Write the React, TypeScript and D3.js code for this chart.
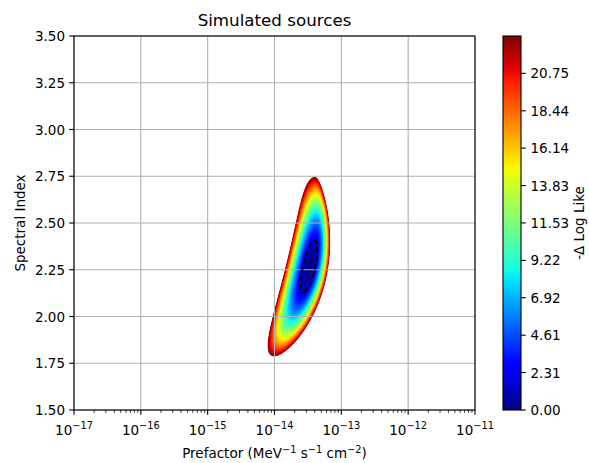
import React, { useMemo } from "react";
import * as d3 from "d3";

// ---------- data ----------
const TITLE = "Simulated sources";
const X_TICK_EXPONENTS = [-17, -16, -15, -14, -13, -12, -11];
const Y_TICKS = [1.5, 1.75, 2.0, 2.25, 2.5, 2.75, 3.0, 3.25, 3.5];
const CBAR_TICKS = [0, 2.31, 4.61, 6.92, 9.22, 11.53, 13.83, 16.14, 18.44, 20.75];
const TS_MAX = 23.05; // top of colour scale (outermost filled contour)
const DASHED_LEVELS = [2.0];
const N_LEVELS = 110;

// likelihood surface (log10 prefactor in decades, index)
const BEST_LOG_PREFACTOR = -13.467;
const BEST_INDEX = 2.267;
const INDEX_HALF_RANGE = 0.479; // half height of outer contour in index
const RIDGE_COEFS = [0.307, -0.232]; // ridge offset (decades) ~ w, w^2
const LEFT_WIDTH = [0.36, -0.025]; // left half width (decades) = a + b*w
const RIGHT_WIDTH = [0.266, -0.112]; // right half width (decades) = a + b*w

// ---------- layout ----------
const W = 589;
const H = 463;
const PL = 74;
const PR = 475;
const PT = 36;
const PB = 410;
const CB_X0 = 503;
const CB_X1 = 521;
const FONT = "DejaVu Sans, sans-serif";
const FS = 13.5;
const SUP = 9.8;
const TICK = 4.8;

function jet(t: number): string {
  const seg = (pts: number[][], x: number) => {
    for (let i = 1; i < pts.length; i++) {
      if (x <= pts[i][0]) {
        const [x0, y0] = pts[i - 1];
        const [x1, y1] = pts[i];
        return y0 + ((y1 - y0) * (x - x0)) / (x1 - x0);
      }
    }
    return pts[pts.length - 1][1];
  };
  const x = Math.max(0, Math.min(1, t));
  const r = seg([[0, 0], [0.35, 0], [0.66, 1], [0.89, 1], [1, 0.5]], x);
  const g = seg([[0, 0], [0.125, 0], [0.375, 1], [0.64, 1], [0.91, 0], [1, 0]], x);
  const b = seg([[0, 0.5], [0.11, 1], [0.34, 1], [0.65, 0], [1, 0]], x);
  return d3.rgb(r * 255, g * 255, b * 255).formatHex();
}

function negLogLike(logN: number, index: number): number {
  const w = (index - BEST_INDEX) / INDEX_HALF_RANGE;
  const ridge = BEST_LOG_PREFACTOR + RIDGE_COEFS[0] * w + RIDGE_COEFS[1] * w * w;
  const d = logN - ridge;
  const h = d < 0 ? LEFT_WIDTH[0] + LEFT_WIDTH[1] * w : RIGHT_WIDTH[0] + RIGHT_WIDTH[1] * w;
  const u = d / h;
  return TS_MAX * (u * u + w * w);
}

export default function App() {
  const x = d3.scaleLog().domain([1e-17, 1e-11]).range([PL, PR]);
  const y = d3.scaleLinear().domain([1.5, 3.5]).range([PB, PT]);
  const cb = d3.scaleLinear().domain([0, TS_MAX]).range([PB, PT]);

  const { bands, dashed } = useMemo(() => {
    const nx = PR - PL;
    const ny = PB - PT;
    const values = new Array(nx * ny);
    for (let j = 0; j < ny; j++) {
      const idx = y.invert(PT + j + 0.5);
      for (let i = 0; i < nx; i++) {
        const n = x.invert(PL + i + 0.5);
        values[j * nx + i] = -negLogLike(Math.log10(n), idx);
      }
    }
    const path = d3.geoPath();
    const levels = d3.range(1, N_LEVELS + 1).map((k) => (TS_MAX * k) / N_LEVELS);
    const gen = d3.contours().size([nx, ny]);
    const bands = levels
      .slice()
      .reverse()
      .map((lv) => {
        const c = gen.contour(values, -lv);
        const mid = lv - TS_MAX / N_LEVELS / 2;
        return { d: path(c as any) || "", color: jet(mid / TS_MAX) };
      });
    const dashed = DASHED_LEVELS.map((lv) => path(gen.contour(values, -lv) as any) || "");
    return { bands, dashed };
  }, []);

  const minorTicks: number[] = [];
  X_TICK_EXPONENTS.slice(0, -1).forEach((e) => {
    for (let m = 2; m <= 9; m++) minorTicks.push(m * Math.pow(10, e));
  });

  const gradStops = d3.range(0, 1.0001, 0.02);

  return (
    <svg width={W} height={H} style={{ display: "block", position: "absolute", left: 0, top: 0 }} fontFamily={FONT}>
      <rect x={0} y={0} width={W} height={H} fill="#fff" />
      <defs>
        <linearGradient id="jetGrad" x1="0" y1="1" x2="0" y2="0">
          {gradStops.map((t) => (
            <stop key={t} offset={t} stopColor={jet(t)} />
          ))}
        </linearGradient>
      </defs>

      {/* filled contours */}
      <g transform={`translate(${PL},${PT})`}>
        {bands.map((b, i) => (
          <path key={i} d={b.d} fill={b.color} stroke={b.color} strokeWidth={0.3} />
        ))}
      </g>

      {/* grid */}
      <g stroke="#b0b0b0" strokeWidth={1.1}>
        {X_TICK_EXPONENTS.map((e) => (
          <line key={e} x1={x(Math.pow(10, e))} x2={x(Math.pow(10, e))} y1={PT} y2={PB} />
        ))}
        {Y_TICKS.map((t) => (
          <line key={t} x1={PL} x2={PR} y1={y(t)} y2={y(t)} />
        ))}
      </g>

      {/* dashed contour */}
      <g transform={`translate(${PL},${PT})`}>
        {dashed.map((d, i) => (
          <path key={i} d={d} fill="none" stroke="#000" strokeWidth={2} strokeDasharray="6,2.6" />
        ))}
      </g>

      {/* frame */}
      <rect x={PL} y={PT} width={PR - PL} height={PB - PT} fill="none" stroke="#000" strokeWidth={1.1} />

      {/* ticks */}
      <g stroke="#000" strokeWidth={1.1}>
        {X_TICK_EXPONENTS.map((e) => (
          <line key={e} x1={x(Math.pow(10, e))} x2={x(Math.pow(10, e))} y1={PB} y2={PB + TICK} />
        ))}
        {minorTicks.map((m) => (
          <line key={m} x1={x(m)} x2={x(m)} y1={PB} y2={PB + 2.8} strokeWidth={0.8} />
        ))}
        {Y_TICKS.map((t) => (
          <line key={t} x1={PL - TICK} x2={PL} y1={y(t)} y2={y(t)} />
        ))}
      </g>
      <g fontSize={FS} fill="#000">
        {X_TICK_EXPONENTS.map((e) => (
          <text key={e} x={x(Math.pow(10, e))} y={PB + 25} textAnchor="middle">
            <tspan>10</tspan>
            <tspan dy={-6.5} fontSize={SUP}>{`\u2212${Math.abs(e)}`}</tspan>
          </text>
        ))}
        {Y_TICKS.map((t) => (
          <text key={t} x={PL - 9} y={y(t) + 5} textAnchor="end">
            {t.toFixed(2)}
          </text>
        ))}
      </g>

      {/* axis labels */}
      <text x={(PL + PR) / 2} y={26} textAnchor="middle" fontSize={16.7} fill="#000">
        {TITLE}
      </text>
      <text x={(PL + PR) / 2} y={458} textAnchor="middle" fontSize={FS} fill="#000">
        <tspan>Prefactor (MeV</tspan>
        <tspan dy={-5.5} fontSize={SUP}>{"\u22121"}</tspan>
        <tspan dy={5.5}> s</tspan>
        <tspan dy={-5.5} fontSize={SUP}>{"\u22121"}</tspan>
        <tspan dy={5.5}> cm</tspan>
        <tspan dy={-5.5} fontSize={SUP}>{"\u22122"}</tspan>
        <tspan dy={5.5}>)</tspan>
      </text>
      <text transform={`translate(25,${(PT + PB) / 2}) rotate(-90)`} textAnchor="middle" fontSize={FS} fill="#000">
        Spectral Index
      </text>

      {/* colorbar */}
      <rect x={CB_X0} y={PT} width={CB_X1 - CB_X0} height={PB - PT} fill="url(#jetGrad)" />
      <rect x={CB_X0} y={PT} width={CB_X1 - CB_X0} height={PB - PT} fill="none" stroke="#000" strokeWidth={1.1} />
      <g stroke="#000" strokeWidth={1.1}>
        {CBAR_TICKS.map((t) => (
          <line key={t} x1={CB_X1} x2={CB_X1 + TICK} y1={cb(t)} y2={cb(t)} />
        ))}
      </g>
      <g fontSize={FS} fill="#000">
        {CBAR_TICKS.map((t) => (
          <text key={t} x={CB_X1 + 9.5} y={cb(t) + 5}>
            {t.toFixed(2)}
          </text>
        ))}
      </g>
      <text transform={`translate(584,${(PT + PB) / 2}) rotate(-90)`} textAnchor="middle" fontSize={FS} fill="#000">
        -Δ Log Like
      </text>
    </svg>
  );
}
